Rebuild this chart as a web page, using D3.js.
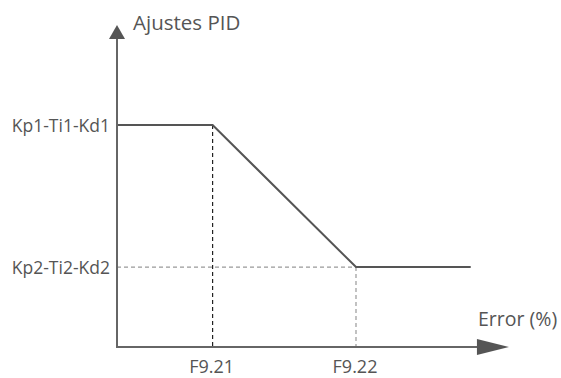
<!DOCTYPE html>
<html>
<head>
<meta charset="utf-8">
<script src="https://cdn.jsdelivr.net/npm/d3@7"></script>
<style>
  body { margin: 0; background: #fff; }
  text { font-family: 'Open Sans', sans-serif; fill: #555; }
</style>
</head>
<body>
<div id="chart"></div>
<script>
// values (arbitrary units)
const xTickValues = [40, 100]
const xTickLabels = ['F9.21', 'F9.22']
const yTickValues = [100, 36]
const yTickLabels = ['Kp1-Ti1-Kd1', 'Kp2-Ti2-Kd2']
const curveError = [0, 40, 100, 148]
const curvePid = [100, 100, 36, 36]
const xAxisMax = 164
const yAxisMax = 145

var width = 561
var height = 378

var svg = d3
  .select('#chart')
  .append('svg')
  .attr('width', width)
  .attr('height', height)

let xPositionScale = d3.scaleLinear().domain([0, 100]).range([117, 356])
let yPositionScale = d3.scaleLinear().domain([0, 100]).range([347, 125])

let x0 = xPositionScale(0)
let y0 = yPositionScale(0)

/* guide lines */
// vertical dashed at first break
svg
  .append('line')
  .attr('x1', xPositionScale(xTickValues[0]))
  .attr('x2', xPositionScale(xTickValues[0]))
  .attr('y1', yPositionScale(yTickValues[0]))
  .attr('y2', y0)
  .attr('stroke', '#222')
  .attr('stroke-width', 1.2)
  .attr('stroke-dasharray', '4,3')

// horizontal dashed at low level
svg
  .append('line')
  .attr('x1', x0)
  .attr('x2', xPositionScale(xTickValues[1]))
  .attr('y1', yPositionScale(yTickValues[1]))
  .attr('y2', yPositionScale(yTickValues[1]))
  .attr('stroke', '#999')
  .attr('stroke-width', 1.2)
  .attr('stroke-dasharray', '4,3')

// vertical dashed at second break
svg
  .append('line')
  .attr('x1', xPositionScale(xTickValues[1]))
  .attr('x2', xPositionScale(xTickValues[1]))
  .attr('y1', yPositionScale(yTickValues[1]))
  .attr('y2', y0)
  .attr('stroke', '#999')
  .attr('stroke-width', 1.2)
  .attr('stroke-dasharray', '4,3')

/* the curve */
let line = d3
  .line()
  .x(d => xPositionScale(d[0]))
  .y(d => yPositionScale(d[1]))

svg
  .append('path')
  .datum(d3.zip(curveError, curvePid))
  .attr('d', line)
  .attr('fill', 'none')
  .attr('stroke', '#555')
  .attr('stroke-width', 2)

/* axes with arrows */
let xTip = xPositionScale(xAxisMax)
let yTip = yPositionScale(yAxisMax)

svg
  .append('line')
  .attr('x1', x0)
  .attr('x2', xTip - 20)
  .attr('y1', y0)
  .attr('y2', y0)
  .attr('stroke', '#666')
  .attr('stroke-width', 2)

svg
  .append('path')
  .attr('d', `M${xTip},${y0} L${xTip - 32},${y0 - 8} L${xTip - 32},${y0 + 8} Z`)
  .attr('fill', '#555')

svg
  .append('line')
  .attr('x1', x0)
  .attr('x2', x0)
  .attr('y1', y0 + 1)
  .attr('y2', yTip + 10)
  .attr('stroke', '#666')
  .attr('stroke-width', 2)

svg
  .append('path')
  .attr('d', `M${x0},${yTip} L${x0 - 8},${yTip + 14} L${x0 + 8},${yTip + 14} Z`)
  .attr('fill', '#555')

/* labels */
svg
  .selectAll('.y-label')
  .data(yTickValues)
  .enter()
  .append('text')
  .attr('class', 'y-label')
  .attr('x', x0 - 7)
  .attr('y', d => yPositionScale(d) + 1)
  .attr('dy', '0.35em')
  .attr('text-anchor', 'end')
  .attr('font-size', 17.5)
  .text((d, i) => yTickLabels[i])

svg
  .selectAll('.x-label')
  .data(xTickValues)
  .enter()
  .append('text')
  .attr('class', 'x-label')
  .attr('x', d => xPositionScale(d) - 1)
  .attr('y', 373)
  .attr('text-anchor', 'middle')
  .attr('font-size', 18)
  .text((d, i) => xTickLabels[i])

svg
  .append('text')
  .attr('x', 133)
  .attr('y', 30)
  .attr('font-size', 20.5)
  .text('Ajustes PID')

svg
  .append('text')
  .attr('x', 478)
  .attr('y', 326)
  .attr('font-size', 19.5)
  .text('Error (%)')
</script>
</body>
</html>
